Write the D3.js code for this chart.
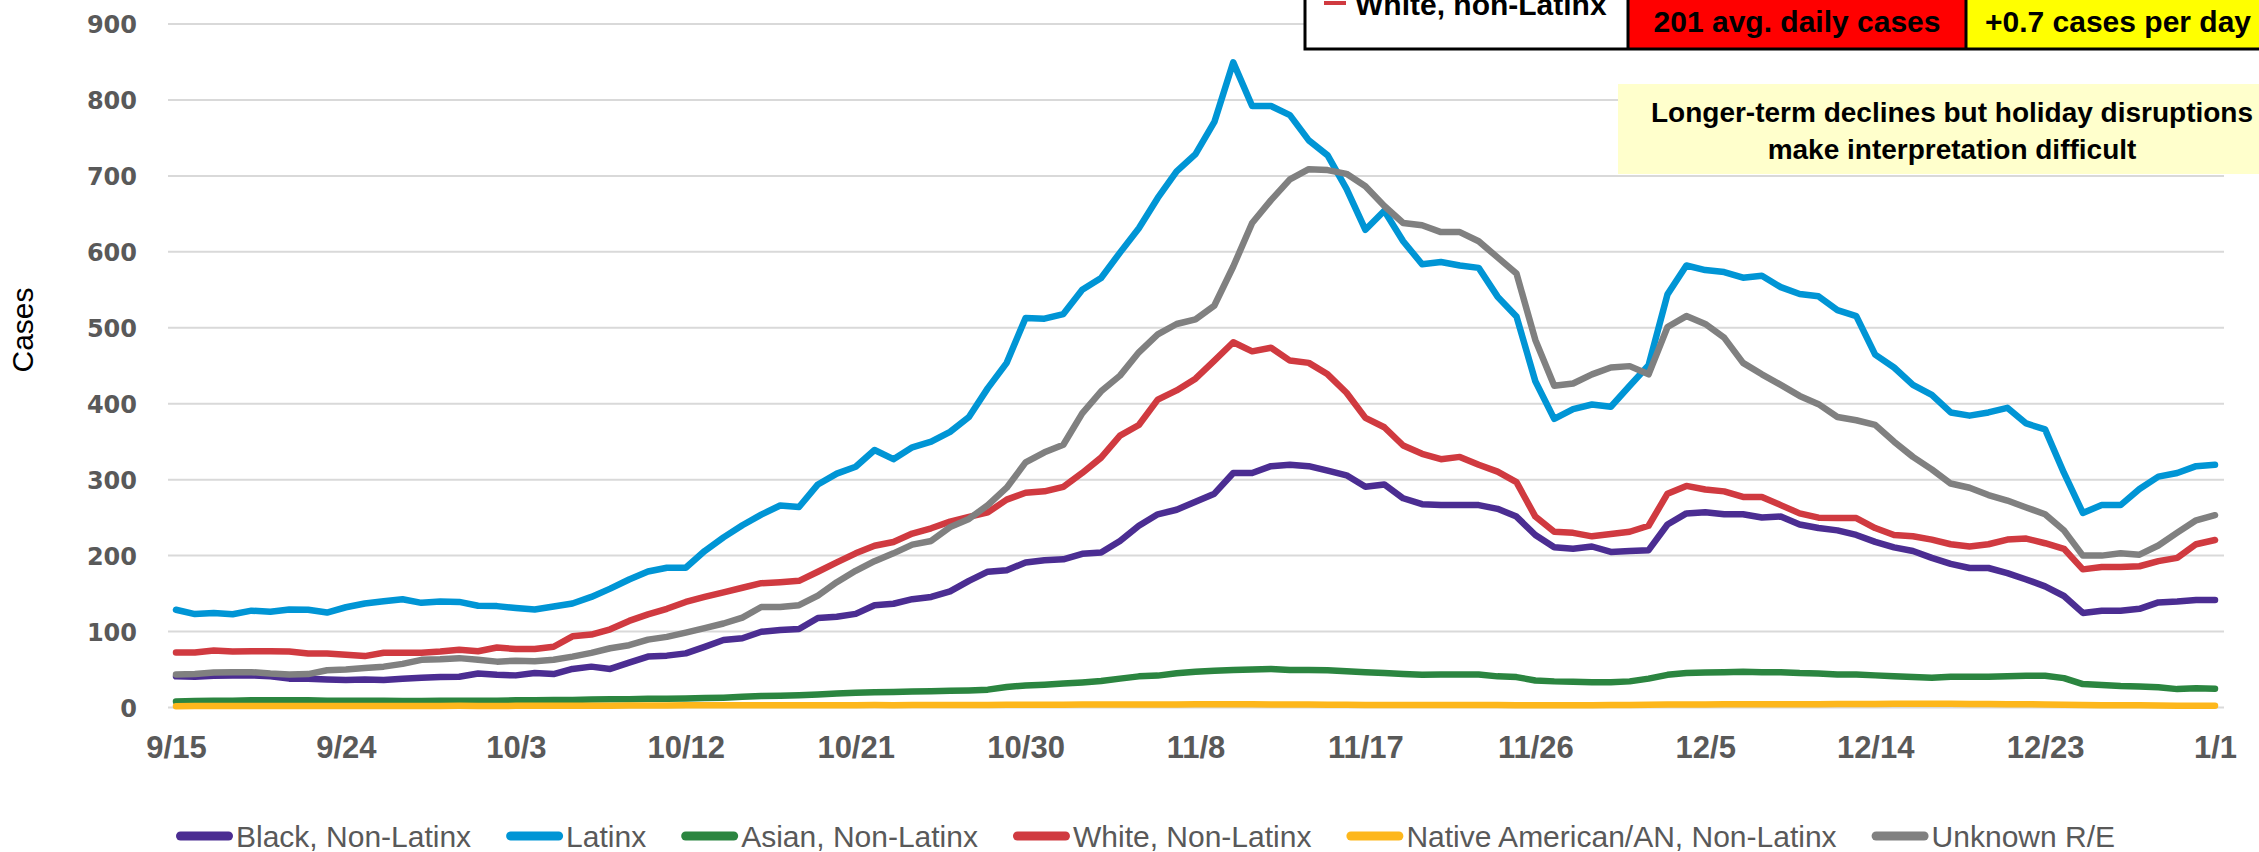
<!DOCTYPE html>
<html><head><meta charset="utf-8">
<script src="https://cdn.jsdelivr.net/npm/d3@7"></script>
<style>html,body{margin:0;padding:0;background:#fff;overflow:hidden}</style>
</head><body><svg id="c" width="2259" height="852"></svg>
<script>
// ---- data ----
const tickLabels = ["9/15","9/24","10/3","10/12","10/21","10/30","11/8","11/17","11/26","12/5","12/14","12/23","1/1"];
const yTicks = [0,100,200,300,400,500,600,700,800,900];
const seriesNames = ["Black, Non-Latinx","Latinx","Asian, Non-Latinx","White, Non-Latinx","Native American/AN, Non-Latinx","Unknown R/E"];
const seriesColors = ["#4B2D92","#0095D5","#2B8540","#D03A40","#FDB71C","#808080"];

const black = [41,40.5,41.7,42.3,42.3,41,38,38,36.9,36.3,36.9,36.3,38,39.3,40,40.5,44.7,43,42.3,45.3,44,50.8,53.8,50.8,59,67,68.3,71.3,
79.8,88.8,91.2,99.7,102,103.3,117.8,119.6,123.3,134.7,136.6,142.6,145.6,152.9,166.8,178.9,180.7,191,194,195.2,202.4,204.2,219.3,239.3,254.4,260.4,271,
281.6,308.8,308.8,317.8,319.6,317.8,311.8,305.7,290.6,293.7,275.5,267.7,266.5,266.5,266.5,261.6,251.4,227.2,210.9,209,212,204.8,206,207.2,241,255.6,257,
254.4,254.4,250.2,251.4,241,236.3,233.2,227.2,218.1,210.9,206,197,189.1,183.7,183.7,177,168.6,159.5,146.8,124.5,127.5,127.5,129.9,138.4,139.6,141.4,141.4];
const latinx = [128.7,123,124.5,122.7,127.5,126,129,128.7,125,132,137,140,142.6,137.8,139.6,139,134,133.5,131,129,133,137,145.6,156.5,168.6,179,184,184,
206,224,240,254,266,264,293.7,308,317,339,327,342.6,350,363,382.5,420.5,453.8,513,512,518,550,565.6,599,631,671,706,728.7,
771,849.5,792,792,780,746.8,727,683,629,654,614,583.7,586.7,582,578.9,541,515,429.6,380,393,399,396,423.6,450.8,544,582,576,
573.4,566,568.6,553.5,544.4,541.4,523.3,515.4,464.7,447.7,424.8,411.5,388.5,384.3,388.5,394.6,374,366.2,308.8,256.2,266.5,266.5,287.6,304,308.8,317.8,319.6];
const asian = [8,8.5,9,9,9.5,9.5,9.5,9.5,9,9,9,9,8.5,8.5,9,9,9,9,9.5,9.5,10,10,10.5,11,11,11.5,11.5,12,
12.5,13,14,15,15.5,16,17,18.5,19.5,20,20.5,21,21.5,22,22.5,23.5,27,29,30,31.5,33,35,38,41,42,45,47,
48.5,49.5,50,50.8,49.5,49.5,49,47.7,46.5,45.3,44,43,43.5,43.5,43.5,41,40,35.6,34.4,33.8,33.2,33.2,34.4,38,43,45.3,46,
46.5,47,46.5,46.5,45.3,44.7,43.5,43.5,42.3,41,40,39.3,40.5,40.5,40.5,41,41.7,41.7,38.7,30.8,29.6,28.4,27.8,26.6,24.2,25.4,24.8];
const white = [72.5,72.5,75,73.7,74,74,73.7,71,71,69.5,67.7,72,72,72,73.7,76,74,79,77,77,80,93.7,96,103,114,122.6,130,139,
145.6,151.7,157.7,163.7,165,166.8,178.8,191,203,213,218,229,236,244.7,251,257,273.7,282.8,284.6,290.6,308.8,329,358,372,405.4,417.5,433,
456.8,481,469,473.7,456.8,453.8,438.7,414.5,381.3,369,345,334,327,330,319.6,310.6,296.7,251.4,231.4,230,225.4,228.4,231.4,239.3,281.6,291.8,287,
284.6,277.3,277.3,266.5,255.6,250,249.5,249.5,236.3,227.2,225.4,221.1,215,212,215,221.1,222.4,216.3,209,181.9,184.9,184.9,186,192.7,197,215,220.5];
const native = [1.8,1.9,2,2,1.9,2,2.1,2,1.9,2,2,2.1,2,2,2.1,2.2,2.1,2,2.2,2.3,2.2,2.3,2.4,2.4,2.5,2.6,2.7,2.8,
2.8,2.9,3,3,2.9,3,3.1,3.1,3,3.2,3.1,3.2,3.3,3.2,3.4,3.4,3.5,3.6,3.6,3.7,3.8,3.8,3.9,4,4,4.1,4.2,
4.2,4.3,4.2,4,4,3.8,3.6,3.5,3.4,3.4,3.3,3.3,3.4,3.3,3.2,3.2,3.1,3,3,3.1,3.1,3.2,3.3,3.5,3.8,4,4.1,
4.2,4.2,4.3,4.3,4.4,4.4,4.5,4.6,4.7,4.8,4.8,4.9,4.8,4.7,4.6,4.4,4.2,4,3.6,3.2,3,2.9,2.8,2.6,2.4,2.3,2.2];
const unknown = [43.5,44,46,46.5,46.5,44.7,43.5,44,49,50,52,53.8,57.4,62.8,63.4,65,62.8,60.4,61.6,61,62.8,67,72,78,82,89.4,93,98.5,
104.5,110.6,118.4,132.3,132.3,134.7,147.4,165,180,192.7,203,214.5,219.3,237.5,248.3,266.5,289.4,322.7,336,346,387.3,416.3,437,467.7,491.2,505,511,
529.3,580.7,638,668,695.5,708.8,707.6,702.7,686.4,660.4,638,635,626,626,614,592.7,571.6,484,423.6,426.6,438.7,447.7,449.5,438.7,501,515.4,505,
487,453.8,438.7,424.8,410.3,399.4,382.5,378.2,372.2,350,330,313.6,294.9,289.4,279.8,272.5,263.4,254.4,233.2,200,200,203,201.2,213.3,230.2,246.5,253.2];
const seriesValues = [black, latinx, asian, white, native, unknown];

const boxLegendLabel = "White, non-Latinx";
const boxAvgText = "201 avg. daily cases";
const boxTrendText = "+0.7 cases per day";
const noteLines = ["Longer-term declines but holiday disruptions","make interpretation difficult"];
const yTitle = "Cases";

// ---- chart ----
const svg = d3.select("#c");
const FONT = "'Liberation Sans', Arial, sans-serif";
const start = Date.UTC(2020, 8, 15);
const dates = d3.utcDay.range(new Date(start), new Date(Date.UTC(2021, 0, 2)));
const parseTick = s => { const [m, d] = s.split("/").map(Number); return new Date(Date.UTC(m >= 9 ? 2020 : 2021, m - 1, d)); };

const x = d3.scaleUtc().domain([dates[0], dates[dates.length - 1]]).range([176, 2215]);
const y = d3.scaleLinear().domain([0, 900]).range([707.5, 24]);

// gridlines
svg.append("g").selectAll("line").data(yTicks).join("line")
  .attr("x1", 168).attr("x2", 2224)
  .attr("y1", d => y(d)).attr("y2", d => y(d))
  .attr("stroke", "#D9D9D9").attr("stroke-width", 2);

// y axis labels
const yAxis = d3.axisLeft(y).tickValues(yTicks).tickSize(0).tickPadding(0);
const gy = svg.append("g").attr("transform", "translate(137,0)").call(yAxis);
gy.select(".domain").remove();
gy.selectAll("text").attr("font-family", "'DejaVu Sans', Verdana, sans-serif").attr("font-weight", "bold")
  .attr("font-size", 24).attr("fill", "#595959").attr("dy", "0.36em");

// x axis labels
const xAxis = d3.axisBottom(x).tickValues(tickLabels.map(parseTick))
  .tickFormat((d, i) => tickLabels[i]).tickSize(0).tickPadding(0);
const gx = svg.append("g").attr("transform", "translate(0,758)").call(xAxis);
gx.select(".domain").remove();
gx.selectAll("text").attr("font-family", FONT).attr("font-weight", "bold")
  .attr("font-size", 31).attr("fill", "#595959").attr("dy", 0).attr("y", 0);

// y title
svg.append("text").attr("transform", "translate(33,330) rotate(-90)")
  .attr("text-anchor", "middle").attr("font-family", FONT).attr("font-size", 30)
  .attr("fill", "#000").text(yTitle);

// lines
const line = d3.line().x((d, i) => x(dates[i])).y(d => y(d));
svg.append("g").selectAll("path").data(seriesValues).join("path")
  .attr("d", d => line(d)).attr("fill", "none")
  .attr("stroke", (d, i) => seriesColors[i]).attr("stroke-width", 6.5)
  .attr("stroke-linejoin", "round").attr("stroke-linecap", "round");

// legend
const lg = svg.append("g").attr("transform", "translate(0,836)");
let lx = 176;
seriesNames.forEach((name, i) => {
  lg.append("line").attr("x1", lx + 4.5).attr("x2", lx + 52.5).attr("y1", 0).attr("y2", 0)
    .attr("stroke", seriesColors[i]).attr("stroke-width", 9).attr("stroke-linecap", "round");
  const t = lg.append("text").attr("x", lx + 60).attr("y", 10.5).attr("font-family", FONT)
    .attr("font-size", 30).attr("fill", "#595959").text(name);
  lx = lx + 60 + t.node().getComputedTextLength() + 35;
});

// top-right box
const box = svg.append("g");
box.append("rect").attr("x", 1305).attr("y", -60).attr("width", 323).attr("height", 109).attr("fill", "#fff");
box.append("rect").attr("x", 1628).attr("y", -60).attr("width", 338).attr("height", 109).attr("fill", "#FF0000");
box.append("rect").attr("x", 1966).attr("y", -60).attr("width", 300).attr("height", 109).attr("fill", "#FFFF00");
box.append("rect").attr("x", 1305).attr("y", -60).attr("width", 961).attr("height", 109)
  .attr("fill", "none").attr("stroke", "#000").attr("stroke-width", 3);
[1628, 1966].forEach(bx => box.append("line").attr("x1", bx).attr("x2", bx).attr("y1", -60).attr("y2", 49)
  .attr("stroke", "#000").attr("stroke-width", 3));
box.append("line").attr("x1", 1324).attr("x2", 1346).attr("y1", 3).attr("y2", 3)
  .attr("stroke", seriesColors[3]).attr("stroke-width", 4);
box.append("text").attr("x", 1355).attr("y", 15).attr("font-family", FONT).attr("font-weight", "bold")
  .attr("font-size", 30).attr("fill", "#000").text(boxLegendLabel);
box.append("text").attr("x", 1797).attr("y", 32).attr("text-anchor", "middle").attr("font-family", FONT)
  .attr("font-weight", "bold").attr("font-size", 30).attr("fill", "#000").text(boxAvgText);
box.append("text").attr("x", 2118).attr("y", 32).attr("text-anchor", "middle").attr("font-family", FONT)
  .attr("font-weight", "bold").attr("font-size", 30).attr("fill", "#000").text(boxTrendText);

// note
const note = svg.append("g");
note.append("rect").attr("x", 1618).attr("y", 84).attr("width", 660).attr("height", 90).attr("fill", "#FFFFCC");
noteLines.forEach((s, i) => note.append("text").attr("x", 1952).attr("y", 122 + i * 36.5)
  .attr("text-anchor", "middle").attr("font-family", FONT).attr("font-weight", "bold")
  .attr("font-size", 28).attr("fill", "#000").text(s));
</script>
</body></html>
